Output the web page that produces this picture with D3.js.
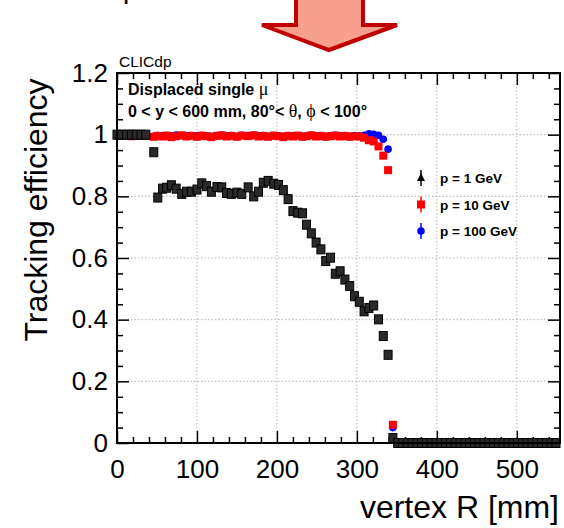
<!DOCTYPE html>
<html>
<head>
<meta charset="utf-8">
<script src="https://cdn.jsdelivr.net/npm/d3@7"></script>
<style>
    html, body { margin: 0; padding: 0; background: #fff; }
    svg { display: block; font-family: "Liberation Sans", Arial, Helvetica, sans-serif; }
</style>
</head>
<body>
<svg id="chart" width="564" height="528"></svg>
<script>
// Vertex radius (mm) of each point, shared by the three momenta
const binR = [
    0, 6, 12, 18, 24, 30, 36, 46, 51, 57,
    62, 68, 74, 81, 87, 93, 100, 106, 112, 118,
    125, 131, 137, 143, 150, 156, 164, 171, 177, 183,
    189, 196, 202, 208, 214, 220, 226, 232, 237, 243,
    249, 255, 261, 267, 273, 279, 285, 291, 297, 303,
    309, 315, 321, 327, 333, 339, 345
];

// p = 1 GeV
const effP1 = [
    1.000, 1.000, 1.000, 1.000, 1.000, 1.000, 1.000, 0.943, 0.796, 0.825,
    0.828, 0.836, 0.825, 0.808, 0.815, 0.815, 0.822, 0.842, 0.833, 0.815,
    0.830, 0.829, 0.811, 0.808, 0.812, 0.808, 0.829, 0.800, 0.815, 0.844,
    0.850, 0.841, 0.837, 0.820, 0.791, 0.752, 0.747, 0.745, 0.708, 0.680,
    0.650, 0.628, 0.590, 0.601, 0.549, 0.557, 0.530, 0.509, 0.476, 0.458,
    0.427, 0.438, 0.446, 0.401, 0.347, 0.286, 0.016
];

// p = 10 GeV
const effP10 = [
    0.998, 0.996, 0.999, 0.995, 0.997, 0.998, 0.996, 0.993, 0.996, 0.994,
    0.997, 0.992, 0.995, 0.998, 0.994, 0.996, 0.993, 0.997, 0.995, 0.992,
    0.996, 0.998, 0.994, 0.996, 0.993, 0.997, 0.995, 0.998, 0.994, 0.996,
    0.993, 0.997, 0.995, 0.992, 0.996, 0.994, 0.997, 0.993, 0.995, 0.998,
    0.994, 0.996, 0.993, 0.995, 0.997, 0.994, 0.996, 0.993, 0.995, 0.994,
    0.990, 0.982, 0.978, 0.962, 0.932, 0.885, 0.059
];

// p = 100 GeV
const effP100 = [
    0.997, 0.996, 0.998, 0.996, 0.997, 0.997, 0.996, 0.995, 0.997, 0.996,
    0.997, 0.996, 0.999, 0.997, 0.996, 0.997, 0.996, 0.997, 0.996, 0.995,
    0.997, 0.998, 0.996, 0.997, 0.995, 0.998, 0.997, 0.998, 0.996, 0.997,
    0.995, 0.997, 0.996, 0.995, 0.997, 0.996, 0.997, 0.995, 0.996, 0.998,
    0.996, 0.997, 0.995, 0.996, 0.998, 0.996, 0.997, 0.995, 0.997, 0.996,
    0.998, 1.003, 1.001, 0.998, 0.985, 0.953, 0.050
];

// Beyond the last layer every momentum sits at zero
const tailR = [
    351, 357, 363, 369, 375, 381, 387, 393, 399, 405,
    411, 417, 423, 429, 435, 441, 447, 453, 459, 465,
    471, 477, 483, 489, 495, 501, 507, 513, 519, 525,
    531, 537, 543, 549
];
const tailEff = [
    0, 0, 0, 0, 0, 0, 0, 0, 0, 0,
    0, 0, 0, 0, 0, 0, 0, 0, 0, 0,
    0, 0, 0, 0, 0, 0, 0, 0, 0, 0,
    0, 0, 0, 0
];

const xTicks = [0, 100, 200, 300, 400, 500];
const xTickLabels = ['0', '100', '200', '300', '400', '500'];
const yTicks = [0, 0.2, 0.4, 0.6, 0.8, 1.0, 1.2];
const yTickLabels = ['0', '0.2', '0.4', '0.6', '0.8', '1', '1.2'];
const legendLabels = ['p = 1 GeV', 'p = 10 GeV', 'p = 100 GeV'];

const svg = d3.select('#chart');
const frame = { left: 117, right: 560, top: 73, bottom: 443 };

const x = d3.scaleLinear().domain([0, 554]).range([frame.left, frame.right]);
const y = d3.scaleLinear().domain([0, 1.2]).range([frame.bottom, frame.top]);

const toPoints = (rs, es) => rs.map((r, i) => ({ r, e: es[i] }));
const withTail = eff => toPoints(binR, eff).concat(toPoints(tailR, tailEff));

// Slide arrow above the plot
const arrow = [[296, -4], [363, -4], [363, 25], [397, 25], [329, 50], [262, 25], [296, 25]];
svg.append('path')
    .attr('d', d3.line()(arrow) + 'Z')
    .attr('fill', '#f8a08e')
    .attr('stroke', '#c00000')
    .attr('stroke-width', 4)
    .attr('stroke-linejoin', 'miter');

// Cut-off glyph from the slide text above
svg.append('text')
    .attr('x', 123).attr('y', -2)
    .attr('font-size', 28)
    .text('p');

// Grid
const grid = svg.append('g')
    .attr('stroke', '#b4b4b4')
    .attr('stroke-width', 1)
    .attr('stroke-dasharray', '1.5,2');
grid.selectAll('line.gx')
    .data(xTicks.slice(1))
    .join('line')
    .attr('x1', d => x(d)).attr('x2', d => x(d))
    .attr('y1', frame.top).attr('y2', frame.bottom);
grid.selectAll('line.gy')
    .data(yTicks.slice(1, -1))
    .join('line')
    .attr('x1', frame.left).attr('x2', frame.right)
    .attr('y1', d => y(d)).attr('y2', d => y(d));

// Axes (ROOT style: ticks inside, on all four sides)
const xMinor = d3.range(0, 554, 20).filter(v => v % 100 !== 0);
const yMinor = d3.range(0, 1.2001, 0.05).filter((v, i) => i % 4 !== 0);

function styleAxis(g) {
    g.select('.domain').remove();
    g.selectAll('.tick line').attr('stroke', '#000').attr('stroke-width', 1.5);
    g.selectAll('.tick text')
        .attr('fill', '#000')
        .attr('font-size', 26)
        .attr('font-family', '"Liberation Sans", Arial, Helvetica, sans-serif');
}

const bottomY = `translate(0,${frame.bottom})`;
const topY = `translate(0,${frame.top})`;
const leftX = `translate(${frame.left},0)`;
const rightX = `translate(${frame.right},0)`;

svg.append('g').attr('transform', bottomY)
    .call(d3.axisBottom(x).tickValues(xTicks).tickFormat((d, i) => xTickLabels[i])
        .tickSizeInner(-12).tickSizeOuter(0).tickPadding(17))
    .call(styleAxis);
svg.append('g').attr('transform', bottomY)
    .call(d3.axisBottom(x).tickValues(xMinor).tickFormat('').tickSizeInner(-6).tickSizeOuter(0))
    .call(styleAxis);
svg.append('g').attr('transform', topY)
    .call(d3.axisTop(x).tickValues(xTicks).tickFormat('').tickSizeInner(-12).tickSizeOuter(0))
    .call(styleAxis);
svg.append('g').attr('transform', topY)
    .call(d3.axisTop(x).tickValues(xMinor).tickFormat('').tickSizeInner(-6).tickSizeOuter(0))
    .call(styleAxis);

svg.append('g').attr('transform', leftX)
    .call(d3.axisLeft(y).tickValues(yTicks).tickFormat((d, i) => yTickLabels[i])
        .tickSizeInner(-12).tickSizeOuter(0).tickPadding(9))
    .call(styleAxis);
svg.append('g').attr('transform', leftX)
    .call(d3.axisLeft(y).tickValues(yMinor).tickFormat('').tickSizeInner(-6).tickSizeOuter(0))
    .call(styleAxis);
svg.append('g').attr('transform', rightX)
    .call(d3.axisRight(y).tickValues(yTicks).tickFormat('').tickSizeInner(-12).tickSizeOuter(0))
    .call(styleAxis);
svg.append('g').attr('transform', rightX)
    .call(d3.axisRight(y).tickValues(yMinor).tickFormat('').tickSizeInner(-6).tickSizeOuter(0))
    .call(styleAxis);

// Data markers: blue under red under black
svg.append('g').selectAll('circle')
    .data(withTail(effP100))
    .join('circle')
    .attr('cx', d => x(d.r))
    .attr('cy', d => y(d.e))
    .attr('r', 3.8)
    .attr('fill', '#0000ff');

svg.append('g').selectAll('rect')
    .data(withTail(effP10))
    .join('rect')
    .attr('x', d => x(d.r) - 4)
    .attr('y', d => y(d.e) - 4)
    .attr('width', 8).attr('height', 8)
    .attr('fill', '#ff0000');

svg.append('g').selectAll('rect')
    .data(withTail(effP1))
    .join('rect')
    .attr('x', d => x(d.r) - 4)
    .attr('y', d => y(d.e) - 4.5)
    .attr('width', 8).attr('height', 9)
    .attr('fill', '#2a2a2a')
    .attr('stroke', '#000')
    .attr('stroke-width', 1);

// Frame
svg.append('rect')
    .attr('x', frame.left).attr('y', frame.top)
    .attr('width', frame.right - frame.left)
    .attr('height', frame.bottom - frame.top)
    .attr('fill', 'none')
    .attr('stroke', '#000')
    .attr('stroke-width', 2);

// Labels
svg.append('text')
    .attr('x', 119).attr('y', 67)
    .attr('font-size', 15.5)
    .text('CLICdp');

const serif = '"Liberation Serif", "DejaVu Serif", serif';

const info1 = svg.append('text')
    .attr('x', 128).attr('y', 95)
    .attr('font-size', 16).attr('font-weight', 'bold');
info1.append('tspan').text('Displaced single ');
info1.append('tspan')
    .attr('font-family', serif).attr('font-weight', 'normal').attr('font-size', 18)
    .text('μ');

const info2 = svg.append('text')
    .attr('x', 128).attr('y', 117)
    .attr('font-size', 16).attr('font-weight', 'bold');
info2.append('tspan').text('0 < y < 600 mm, 80°< ');
info2.append('tspan')
    .attr('font-family', serif).attr('font-weight', 'normal').attr('font-size', 18)
    .text('θ');
info2.append('tspan').text(', ');
info2.append('tspan')
    .attr('font-family', serif).attr('font-weight', 'normal').attr('font-size', 18)
    .text('ϕ');
info2.append('tspan').text(' < 100°');

svg.append('text')
    .attr('transform', 'translate(47,210) rotate(-90)')
    .attr('text-anchor', 'middle')
    .attr('font-size', 32)
    .text('Tracking efficiency');

svg.append('text')
    .attr('x', 559).attr('y', 518)
    .attr('text-anchor', 'end')
    .attr('font-size', 32)
    .text('vertex R [mm]');

// Legend
const legend = svg.append('g').attr('transform', 'translate(421,178)');
const rowH = 26.5;
const rows = legend.selectAll('g')
    .data(legendLabels)
    .join('g')
    .attr('transform', (d, i) => `translate(0,${i * rowH})`);

rows.append('line')
    .attr('x1', 0).attr('x2', 0)
    .attr('y1', -8).attr('y2', 8)
    .attr('stroke', (d, i) => ['#000', '#ff0000', '#0000ff'][i])
    .attr('stroke-width', 1.5);

rows.filter((d, i) => i === 0).append('path')
    .attr('d', 'M0,-5L4,3L-4,3Z')
    .attr('fill', '#000');
rows.filter((d, i) => i === 1).append('rect')
    .attr('x', -4).attr('y', -4).attr('width', 8).attr('height', 8)
    .attr('fill', '#ff0000');
rows.filter((d, i) => i === 2).append('circle')
    .attr('r', 3.8)
    .attr('fill', '#0000ff');

rows.append('text')
    .attr('x', 19).attr('y', 5)
    .attr('font-size', 13.5)
    .attr('font-weight', 'bold')
    .text(d => d);
</script>
</body>
</html>
